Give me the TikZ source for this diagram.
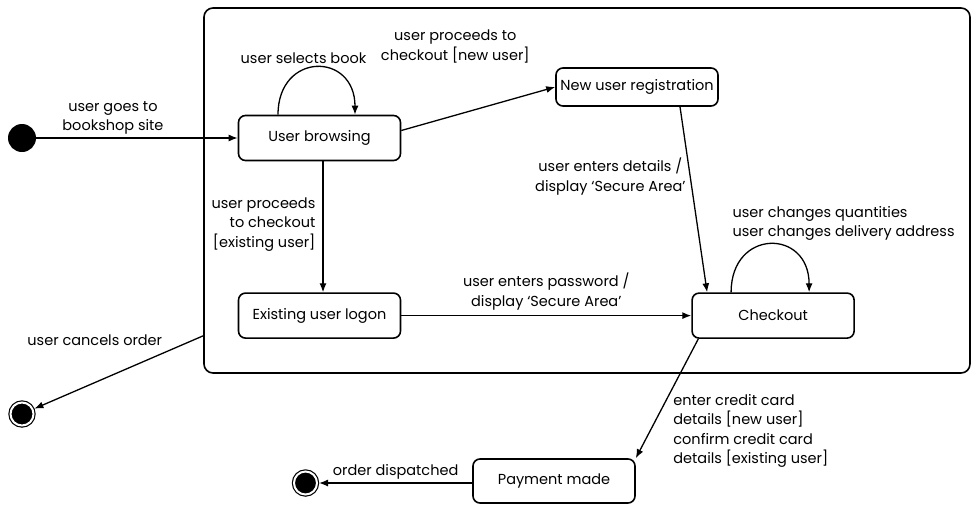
\documentclass[tikz,border=0pt]{standalone}
\usepackage{fontspec}
\setmainfont{Poppins}
\usetikzlibrary{arrows.meta, positioning}

\begin{document}
\begin{tikzpicture}[
    x=1pt, y=1pt,
    node distance=1cm and 1.5cm,
    font=\fontsize{14.5}{19.5}\selectfont,
    >={Latex[length=9pt, width=7pt]},
    state/.style={rectangle, rounded corners=7pt, draw=black, line width=1.6pt, fill=white, minimum width=162pt, minimum height=45pt, text centered, inner sep=2pt},
    superstate/.style={rectangle, rounded corners=9pt, draw=black, line width=1.6pt, minimum width=766pt, minimum height=365pt},
    startstate/.style={circle, fill=black, minimum size=28pt, inner sep=0pt},
    endstate/.style={circle, fill=black, draw=black, double=white, double distance=2pt, line width=1.2pt, minimum size=23pt, inner sep=0pt, outer sep=2pt},
    arrow/.style={->, draw=black, line width=1.3pt},
    label_text/.style={align=center, inner sep=3pt}
]
\useasboundingbox (0,0) rectangle (973,-506);

% Nodes
\node (shop) [superstate] at (587,-190.5) {};
\node (start) [startstate] at (22,-138) {};
\node (browse) [state] at (319.5,-138) {User browsing};
\node (new_reg) [state, minimum height=38pt] at (637,-87) {New user registration};
\node (logon) [state, below=131pt of browse] {Existing user logon};
\node (checkout) [state, right=290pt of logon] {Checkout};
\node (payment) [state, minimum height=44pt] at (554,-481) {Payment made};
\node (end_cancel) [endstate] at (22,-414) {};
\node (end_done) [endstate] at (305.5,-483) {};

% Paths
\draw [arrow] (start) -- node[label_text, above, xshift=-24pt] {user goes to\\bookshop site} (browse);
\draw [arrow] ([xshift=-41.5pt]browse.north) to[out=90, in=90, looseness=2.1]
    node[label_text, above, xshift=-13pt] {user selects book} ([xshift=35.5pt]browse.north);

\draw [arrow] ([yshift=7.5pt]browse.east) -- node[label_text, xshift=-23pt, yshift=62.5pt] {user proceeds to\\checkout [new user]} (new_reg.west);
\draw [arrow] ([xshift=3.5pt]browse.south) -- node[label_text, left, align=right, xshift=-4pt, yshift=2.5pt] {user proceeds\\to checkout\\{[existing user]}} ([xshift=3.5pt]logon.north);

\draw [arrow] (logon) -- node[label_text, above=2pt] {user enters password /\\display ‘Secure Area’} (checkout);
\draw [arrow] ([xshift=43pt]new_reg.south) -- node[label_text, left, pos=0.375, xshift=-1pt] {user enters details /\\display ‘Secure Area’} ([xshift=-66pt]checkout.north);
\draw [arrow] ([xshift=-42pt]checkout.north) to[out=90, in=90, looseness=2.1]
    node[label_text, above, align=left, xshift=73.5pt] {user changes quantities\\user changes delivery address} ([xshift=36pt]checkout.north);

\draw [arrow] ([yshift=38pt]shop.south west) -- node[label_text, xshift=-24pt, yshift=32pt] {user cancels order} (end_cancel);
\draw [arrow] ([xshift=7pt]checkout.south west) -- node[label_text, right, align=left, pos=0.785, xshift=20.5pt, yshift=1.5pt] {enter credit card\\details [new user]\\confirm credit card\\details [existing user]} (payment.north east);
\draw [arrow] ([yshift=-2pt]payment.west) -- node[label_text, above] {order dispatched} (end_done);

\end{tikzpicture}
\end{document}
